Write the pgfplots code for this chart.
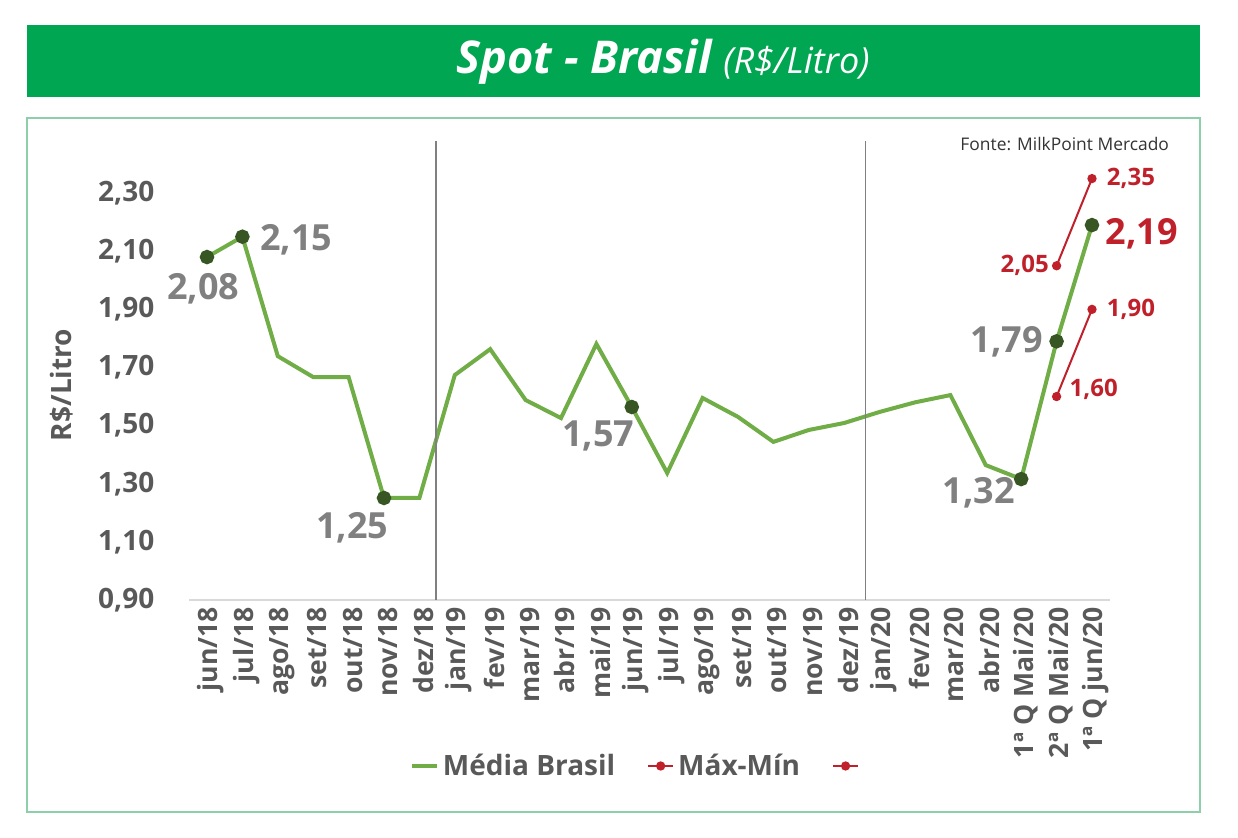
\documentclass[border=0pt]{standalone}
\usepackage{fontspec}
\setmainfont{Open Sans}
\usepackage{pgfplots}
\pgfplotsset{compat=1.18}
\definecolor{banner}{HTML}{00A651}
\definecolor{frame}{HTML}{8CCFA8}
\definecolor{lgreen}{HTML}{70AD47}
\definecolor{dgreen}{HTML}{375623}
\definecolor{dred}{HTML}{C0202A}
\definecolor{tickgray}{HTML}{595959}
\definecolor{labgray}{HTML}{808080}
\begin{document}
\begin{tikzpicture}
\useasboundingbox (0,0) rectangle (619pt,419pt);
% title banner
\fill[banner] (13.5pt,370.5pt) rectangle (600pt,406.5pt);
\node[text=white, anchor=center] at (331.5pt,388pt)
  {\fontsize{22.6}{26}\selectfont\bfseries\itshape Spot - Brasil \mdseries\fontsize{18}{20}\selectfont(R\$/Litro)};
% frame
\draw[frame, line width=0.8pt] (13.5pt,13pt) rectangle (600pt,360pt);
\node[anchor=east, text=black!80, font=\fontsize{8.7}{10}\selectfont] at (588pt,347pt) {Fonte: MilkPoint Mercado};
\begin{axis}[
  scale only axis,
  width=460.2pt, height=232.5pt,
  at={(94.65pt,119pt)}, anchor=south west,
  xmin=-0.5, xmax=25.5,
  ymin=0.9, ymax=2.5,
  axis y line*=left,
  axis x line*=bottom,
  y axis line style={draw=none},
  x axis line style={draw=black!15, line width=0.6pt, -},
  ytick={0.9,1.1,1.3,1.5,1.7,1.9,2.1,2.3},
  yticklabel style={font=\fontsize{14}{16}\selectfont\bfseries, text=tickgray, xshift=-14pt, /pgf/number format/.cd, fixed, fixed zerofill, precision=2, use comma},
  xtick={0,...,25},
  xticklabels={jun/18,jul/18,ago/18,set/18,out/18,nov/18,dez/18,jan/19,fev/19,mar/19,abr/19,mai/19,jun/19,jul/19,ago/19,set/19,out/19,nov/19,dez/19,jan/20,fev/20,mar/20,abr/20,1ª Q Mai/20,2ª Q Mai/20,1ª Q jun/20},
  major tick length=0pt,
  xticklabel style={rotate=90, anchor=east, font=\fontsize{13.3}{14}\selectfont\bfseries, text=tickgray, yshift=-2pt},
  /pgf/number format/assume math mode=true,
  clip=false,
  legend columns=3,
  legend style={at={(0.488,-0.357)}, anchor=center, draw=none, fill=none,
    font=\fontsize{14}{16}\selectfont\bfseries, text=tickgray,
    /tikz/every even column/.append style={column sep=14pt},
    inner sep=0pt},
  legend image code/.code={\draw[mark repeat=2,mark phase=2,#1] plot coordinates {(0cm,0cm)(0.22cm,0cm)(0.44cm,0cm)};},
]
\addplot[lgreen, line width=2pt, mark=*, mark size=2.6pt,
  mark options={fill=dgreen, draw=dgreen},
  mark indices={1,2,6,13,24,25,26},
  legend image post style={mark=none}] coordinates {
(0,2.08)(1,2.15)(2,1.739)(3,1.667)(4,1.667)(5,1.251)(6,1.251)(7,1.674)(8,1.763)(9,1.588)(10,1.526)(11,1.781)(12,1.564)(13,1.337)(14,1.595)(15,1.53)(16,1.444)(17,1.485)(18,1.509)(19,1.547)(20,1.58)(21,1.605)(22,1.364)(23,1.316)(24,1.79)(25,2.19)};
\addlegendentry{Média Brasil}
\addplot[dred, line width=1pt, mark=*, mark size=1.8pt] coordinates {(24,2.05)(25,2.35)};
\addlegendentry{Máx-Mín}
\addplot[dred, line width=1pt, mark=*, mark size=1.8pt] coordinates {(24,1.60)(25,1.90)};
\addlegendentry{}
\addplot[black!50, line width=0.7pt, forget plot] coordinates {(6.47,0.9)(6.47,2.48)};
\addplot[black!50, line width=0.7pt, forget plot] coordinates {(18.6,0.9)(18.6,2.48)};
% data labels
\node[text=labgray, font=\fontsize{18}{20}\selectfont\bfseries] at (axis cs:-0.1,1.97) {2,08};
\node[text=labgray, font=\fontsize{18}{20}\selectfont\bfseries, anchor=west] at (axis cs:1.3,2.14) {2,15};
\node[text=labgray, font=\fontsize{18}{20}\selectfont\bfseries] at (axis cs:4.1,1.15) {1,25};
\node[text=labgray, font=\fontsize{18}{20}\selectfont\bfseries] at (axis cs:11.05,1.465) {1,57};
\node[text=labgray, font=\fontsize{18}{20}\selectfont\bfseries] at (axis cs:21.8,1.27) {1,32};
\node[text=labgray, font=\fontsize{18}{20}\selectfont\bfseries] at (axis cs:22.6,1.79) {1,79};
\node[text=dred, font=\fontsize{18}{20}\selectfont\bfseries] at (axis cs:26.4,2.16) {2,19};
\node[text=dred, font=\fontsize{12}{14}\selectfont\bfseries] at (axis cs:26.1,2.35) {2,35};
\node[text=dred, font=\fontsize{12}{14}\selectfont\bfseries] at (axis cs:23.1,2.05) {2,05};
\node[text=dred, font=\fontsize{12}{14}\selectfont\bfseries] at (axis cs:26.1,1.90) {1,90};
\node[text=dred, font=\fontsize{12}{14}\selectfont\bfseries] at (axis cs:25.05,1.625) {1,60};
\end{axis}
\node[rotate=90, text=tickgray, font=\fontsize{14}{16}\selectfont\bfseries] at (31pt,226.5pt) {R\$/Litro};
\end{tikzpicture}
\end{document}
